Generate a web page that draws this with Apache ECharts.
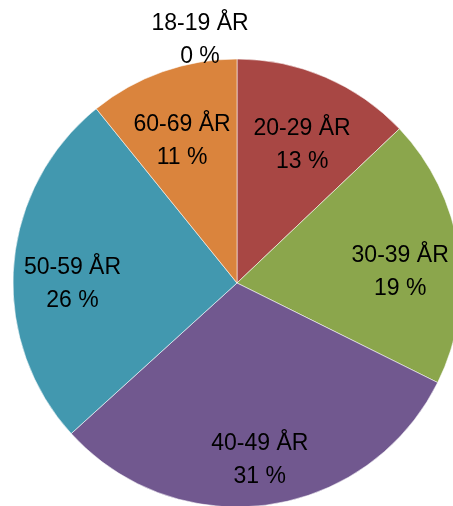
<!DOCTYPE html>
<html>
<head>
<meta charset="utf-8">
<script src="https://cdn.jsdelivr.net/npm/echarts@6/dist/echarts.min.js"></script>
<style>
html,body{margin:0;padding:0;background:#fff;}
#c{width:453px;height:506px;}
</style>
</head>
<body>
<div id="c"></div>
<script>
const categories = ['18-19 ÅR', '20-29 ÅR', '30-39 ÅR', '40-49 ÅR', '50-59 ÅR', '60-69 ÅR'];
const values = [0, 12.9, 19.4, 30.9, 25.9, 10.8];
const colors = ['#4A7EBB', '#A84744', '#8BA64C', '#71588F', '#4298AF', '#DA843D'];

const data = categories.map((n, i) => ({ name: n, value: values[i], itemStyle: { color: colors[i] } }));

const chart = echarts.init(document.getElementById('c'));
chart.setOption({
  animation: false,
  series: [
    {
      type: 'pie',
      center: [237, 283],
      radius: [0, 224],
      startAngle: 90,
      clockwise: true,
      avoidLabelOverlap: false,
      silent: true,
      itemStyle: { borderColor: 'rgba(255,255,255,0.55)', borderWidth: 1 },
      label: { show: false },
      labelLine: { show: false },
      data: data
    },
    {
      type: 'pie',
      center: [237, 283],
      radius: [100, 224],
      startAngle: 90,
      clockwise: true,
      avoidLabelOverlap: false,
      stillShowZeroSum: true,
      silent: true,
      itemStyle: { color: 'rgba(0,0,0,0)', borderWidth: 0 },
      label: {
        show: true,
        position: 'inside',
        color: '#000',
        fontFamily: 'Liberation Sans, Arial, sans-serif',
        fontSize: 23,
        lineHeight: 33,
        align: 'center',
        formatter: p => p.name + '\n' + Math.round(p.value) + ' %'
      },
      labelLine: { show: false },
      labelLayout: function (p) {
        if (p.dataIndex === 0) {
          return { x: 200, y: 40, align: 'center', verticalAlign: 'middle' };
        }
        return { dy: 14 };
      },
      data: categories.map((n, i) => ({ name: n, value: values[i] }))
    }
  ]
});
</script>
</body>
</html>
